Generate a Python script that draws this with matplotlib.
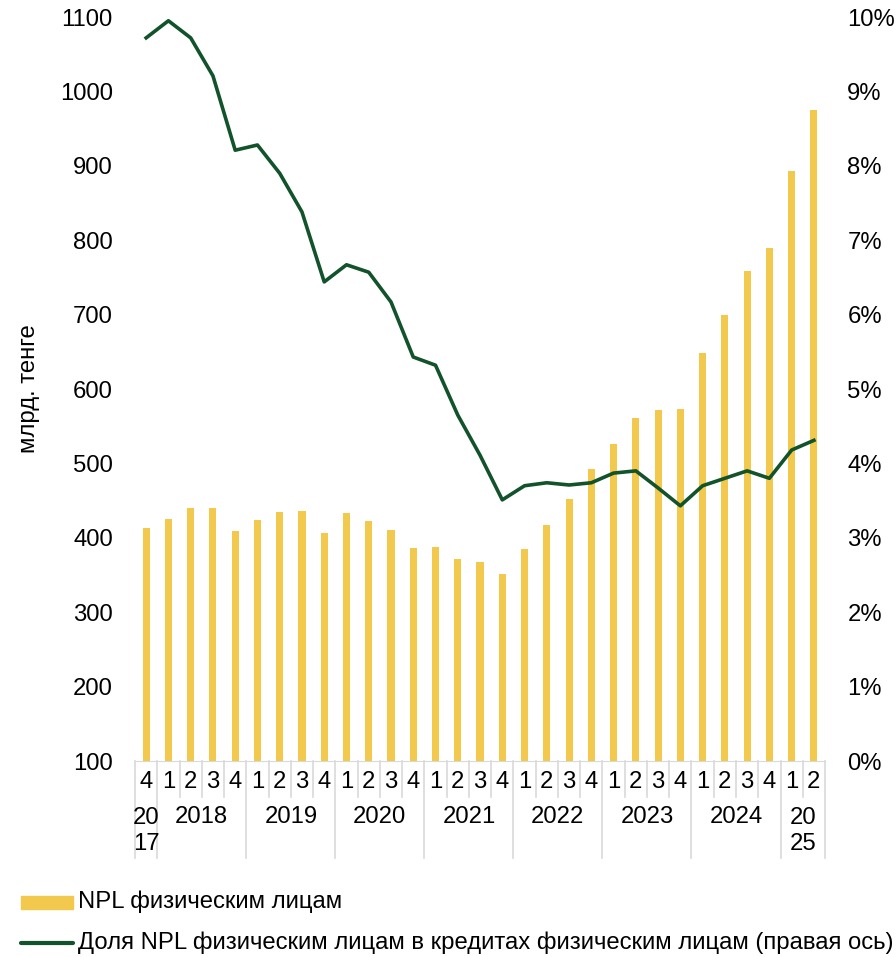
import matplotlib
matplotlib.use("Agg")
import matplotlib.pyplot as plt
from matplotlib.patches import Rectangle
from matplotlib.lines import Line2D

plt.rcParams['font.family'] = ['Liberation Sans', 'DejaVu Sans']

# data
quarters = ['4', '1', '2', '3', '4', '1', '2', '3', '4', '1', '2', '3', '4',
            '1', '2', '3', '4', '1', '2', '3', '4', '1', '2', '3', '4',
            '1', '2', '3', '4', '1', '2']
years = ['20\n17', '2018', '2019', '2020', '2021', '2022', '2023', '2024', '20\n25']
year_sizes = [1, 4, 4, 4, 4, 4, 4, 4, 2]
npl = [413, 425, 440, 440, 409, 424, 435, 436, 406, 433, 423, 410, 386,
       388, 372, 367, 351, 385, 417, 452, 492, 526, 561, 572, 573,
       648, 699, 759, 790, 893, 975]
npl_share = [9.72, 9.95, 9.72, 9.21, 8.21, 8.28, 7.90, 7.38, 6.44, 6.67, 6.57,
             6.17, 5.43, 5.32, 4.65, 4.11, 3.51, 3.70, 3.74, 3.71, 3.74, 3.87,
             3.90, 3.67, 3.43, 3.70, 3.80, 3.90, 3.80, 4.18, 4.31]

BAR_COLOR = '#F2C94C'
LINE_COLOR = '#12532B'
GRID_GRAY = '#D9D9D9'
FS = 17.2

fig = plt.figure(figsize=(8.96, 9.57), dpi=100)
ax = fig.add_axes([0.1507, 0.2048, 0.7701, 0.7774])
x = list(range(len(npl)))
ax.bar(x, npl, width=0.32, color=BAR_COLOR, zorder=2)
ax.set_xlim(-0.5, len(npl) - 0.5)
ax.set_ylim(100, 1100)
ax.set_yticks(range(100, 1101, 100))
ax.tick_params(axis='y', length=0, pad=16, labelsize=FS)
ax.set_ylabel('млрд. тенге', fontsize=FS, labelpad=14)
for s in ['top', 'right', 'left']:
    ax.spines[s].set_visible(False)
ax.spines['bottom'].set_color(GRID_GRAY)

# category axis
ax.set_xticks(x)
ax.set_xticklabels(quarters, fontsize=FS)
ax.tick_params(axis='x', length=0, pad=7)
trans = ax.get_xaxis_transform()
bounds = [-0.5]
for n in year_sizes:
    bounds.append(bounds[-1] + n)
for i in range(len(npl) + 1):
    b = i - 0.5
    low = -0.130 if b in bounds else -0.048
    ax.plot([b, b], [0, low], color=GRID_GRAY, lw=1.2, transform=trans, clip_on=False)
for k, yr in enumerate(years):
    c = (bounds[k] + bounds[k + 1]) / 2
    if '\n' in yr:
        ax.text(c, -0.094, yr, transform=trans, ha='center', va='center', fontsize=FS,
                linespacing=1.2)
    else:
        ax.text(c, -0.075, yr, transform=trans, ha='center', va='center', fontsize=FS)

ax2 = ax.twinx()
ax2.plot(x, npl_share, color=LINE_COLOR, lw=2.6, zorder=3)
ax2.set_ylim(0, 10)
ax2.set_yticks(range(0, 11))
ax2.set_yticklabels([f'{v}%' for v in range(0, 11)])
ax2.tick_params(axis='y', length=0, pad=16, labelsize=FS)
for s in ['top', 'right', 'left', 'bottom']:
    ax2.spines[s].set_visible(False)

# legend
fig.add_artist(Rectangle((21 / 896, 1 - 909 / 957), 52 / 896, 13 / 957,
                         color=BAR_COLOR, transform=fig.transFigure))
fig.text(78 / 896, 1 - 902 / 957, 'NPL физическим лицам', fontsize=FS, va='center')
fig.add_artist(Line2D([21 / 896, 73 / 896], [1 - 943 / 957, 1 - 943 / 957],
                      color=LINE_COLOR, lw=3, solid_capstyle='round',
                      transform=fig.transFigure))
fig.text(78 / 896, 1 - 943 / 957,
         'Доля NPL физическим лицам в кредитах физическим лицам (правая ось)',
         fontsize=FS, va='center')

fig.savefig('out.png', dpi=100)
